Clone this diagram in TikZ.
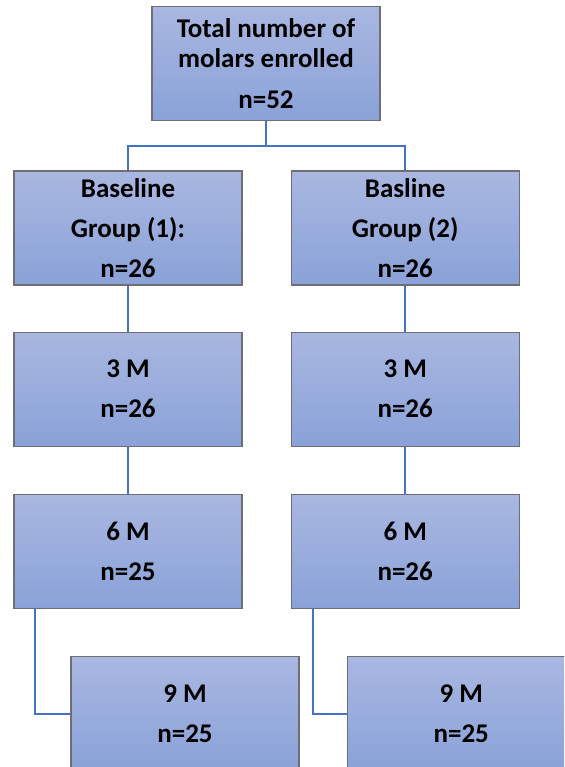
\documentclass[tikz,border=0pt]{standalone}
\usepackage{fontspec}
\setmainfont{Carlito}
\usepackage{tikz}
\usetikzlibrary{positioning}
\definecolor{boxtop}{HTML}{A9B7E1}
\definecolor{boxbottom}{HTML}{8AA2D8}
\definecolor{boxline}{HTML}{6E6E74}
\definecolor{linkblue}{HTML}{4472C4}
\begin{document}
\begin{tikzpicture}[x=1pt,y=1pt,node distance=47pt and 48pt,
 box/.style={draw=boxline,line width=1.2pt,top color=boxtop,bottom color=boxbottom,align=center,
  minimum width=228pt,minimum height=114pt,inner sep=0pt,font=\fontsize{27}{30}\selectfont\bfseries},
 link/.style={draw=linkblue,line width=2pt}]
\useasboundingbox (0,0) rectangle (564,-767);
\clip (0,0) rectangle (564,-767);
\node[box] (base1) at (128,-228) {Baseline\\[10pt]Group (1):\\[10pt]n=26};
\node[box,right=of base1] (base2) {Basline\\[10pt]Group (2)\\[10pt]n=26};
\coordinate (mid) at ([xshift=138pt]base1.north);
\node[box,above=49pt of mid,anchor=south] (total) {Total number of\\molars enrolled\\[11pt]n=52};
\node[box,below=46pt of base1] (m3a) {3 M\\[10pt]n=26};
\node[box,below=46pt of base2] (m3b) {3 M\\[10pt]n=26};
\node[box,below=of m3a] (m6a) {6 M\\[10pt]n=25};
\node[box,below=of m3b] (m6b) {6 M\\[10pt]n=26};
\node[box,below=of m6a,xshift=57pt] (m9a) {9 M\\[10pt]n=25};
\node[box,below=of m6b,xshift=56pt] (m9b) {9 M\\[10pt]n=25};
\draw[link] (total.south) -- ++(0,-24.5) coordinate (split) -| (base1.north);
\draw[link] (split) -| (base2.north);
\draw[link] (base1) -- (m3a);
\draw[link] (base2) -- (m3b);
\draw[link] (m3a) -- (m6a);
\draw[link] (m3b) -- (m6b);
\draw[link] ([xshift=22pt]m6a.south west) |- (m9a.west);
\draw[link] ([xshift=22pt]m6b.south west) |- (m9b.west);
\end{tikzpicture}
\end{document}
